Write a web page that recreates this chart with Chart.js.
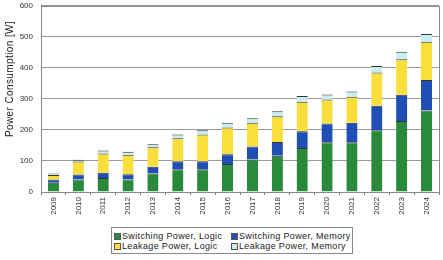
<!DOCTYPE html>
<html>
<head>
<meta charset="utf-8">
<script src="https://cdn.jsdelivr.net/npm/chart.js@4.4.1/dist/chart.umd.min.js"></script>
<style>
  html, body { margin: 0; padding: 0; background: #fff; overflow: hidden; }
  #wrap { position: relative; width: 443px; height: 260px; overflow: hidden; }
  #power { position: absolute; left: 0; top: -7px; }
  #legend {
    position: absolute; left: 111px; top: 227px; width: 242px; height: 27px;
    border: 1px solid #888; box-sizing: border-box; background: #fff;
    font: 9px "Liberation Sans", Arial, sans-serif; color: #222;
    display: grid; grid-template-columns: 117px auto; align-content: center;
    padding-left: 2px; letter-spacing: 0.35px; white-space: nowrap;
  }
  #legend span.sw { display: inline-block; width: 7px; height: 7px; border: 1px solid #555; box-sizing: border-box; margin-right: 1px; vertical-align: -1px; }
</style>
</head>
<body>
<div id="wrap">
  <canvas id="power" width="443" height="267"></canvas>
  <div id="legend"></div>
</div>
<script>
// Yearly power consumption (W)
const years = ['2009', '2010', '2011', '2012', '2013', '2014', '2015', '2016',
               '2017', '2018', '2019', '2020', '2021', '2022', '2023', '2024'];
const switchingLogic  = [30, 40, 45, 40, 60, 73, 73, 90, 105, 117, 142, 160, 160, 199, 229, 263];
const switchingMemory = [10, 16, 17, 17, 21, 26, 26, 32, 42, 44, 54, 61, 63, 79, 84, 98];
const leakageLogic    = [15, 42, 62, 63, 63, 74, 86, 86, 76, 83, 95, 77, 84, 107, 115, 123];
const leakageMemory   = [5, 6, 10, 10, 10, 12, 14, 15, 15, 16, 18, 16, 17, 21, 24, 25];
const yTicks = [0, 100, 200, 300, 400, 500, 600];
const yTitle = 'Power Consumption [W]';

const seriesNames = ['Switching Power, Logic', 'Switching Power, Memory',
                     'Leakage Power, Logic', 'Leakage Power, Memory'];
const seriesColors = ['#2a8a3c', '#1f4eb4', '#f9de3c', '#c9eef2'];
const seriesData = [switchingLogic, switchingMemory, leakageLogic, leakageMemory];

const font = "'Liberation Sans', Arial, sans-serif";

// box around the plot area + y title placed a bit above centre, like the original
const plotBox = {
    id: 'plotBox',
    afterDraw(chart) {
        const a = chart.chartArea;
        const c = chart.ctx;
        c.save();
        c.strokeStyle = '#8a8a8a';
        c.lineWidth = 1;
        c.strokeRect(Math.round(a.left) + 0.5, Math.round(a.top) + 0.5,
                     Math.round(a.right - a.left), Math.round(a.bottom - a.top));
        c.translate(10, 86);
        c.rotate(-Math.PI / 2);
        c.font = '10px ' + font;
        c.fillStyle = '#222';
        c.textAlign = 'center';
        c.textBaseline = 'middle';
        c.letterSpacing = '0.4px';
        c.fillText(yTitle, 0, 0);
        c.restore();
    }
};

const chart = new Chart(document.getElementById('power'), {
    type: 'bar',
    data: {
        labels: years,
        datasets: seriesData.map((d, i) => ({
            label: seriesNames[i],
            data: d,
            backgroundColor: seriesColors[i],
            borderColor: '#333',
            borderWidth: { top: 1, left: 0, right: 0, bottom: 0 },
            categoryPercentage: 1,
            barPercentage: 0.45
        }))
    },
    options: {
        responsive: false,
        animation: false,
        layout: { padding: { top: 0, right: 4, left: 0, bottom: 0 } },
        plugins: {
            legend: { display: false },
            tooltip: { enabled: false }
        },
        scales: {
            x: {
                stacked: true,
                offset: true,
                grid: { display: true, drawOnChartArea: false, tickLength: 3, color: '#777', offset: true },
                border: { color: '#777' },
                ticks: {
                    minRotation: 90, maxRotation: 90, padding: 2,
                    font: { size: 8, family: font }, color: '#333'
                },
                afterFit(scale) { scale.height = 68; }
            },
            y: {
                stacked: true,
                min: 0,
                max: 600,
                afterBuildTicks(scale) { scale.ticks = yTicks.map(v => ({ value: v })); },
                grid: { color: '#9a9a9a', drawTicks: false },
                border: { color: '#777' },
                ticks: { padding: 8, font: { size: 8, family: font }, color: '#333' },
                afterFit(scale) { scale.width = 41; }
            }
        }
    },
    plugins: [plotBox]
});

// two-row legend, like the original
const legend = document.getElementById('legend');
seriesNames.forEach((name, i) => {
    const item = document.createElement('div');
    item.innerHTML = '<span class="sw" style="background:' + seriesColors[i] + '"></span>' + name;
    legend.appendChild(item);
});
</script>
</body>
</html>
